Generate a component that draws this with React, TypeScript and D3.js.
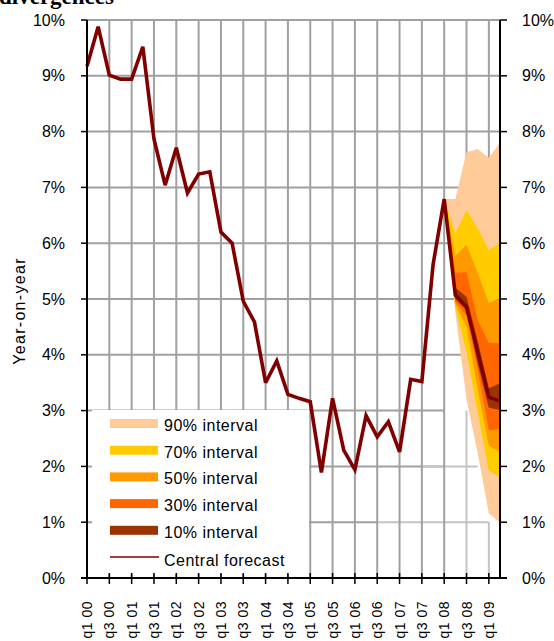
import React from "react";
import * as d3 from "d3";

const quarters = [
  "q1 00","q2 00","q3 00","q4 00","q1 01","q2 01","q3 01","q4 01",
  "q1 02","q2 02","q3 02","q4 02","q1 03","q2 03","q3 03","q4 03",
  "q1 04","q2 04","q3 04","q4 04","q1 05","q2 05","q3 05","q4 05",
  "q1 06","q2 06","q3 06","q4 06","q1 07","q2 07","q3 07","q4 07",
  "q1 08","q2 08","q3 08","q4 08","q1 09","q2 09",
];

const central = [
  9.17, 9.88, 9.01, 8.94, 8.94, 9.52, 7.87, 7.04,
  7.71, 6.9, 7.24, 7.28, 6.2, 6.0, 4.96, 4.59,
  3.5, 3.89, 3.29, 3.22, 3.16, 1.89, 3.22, 2.29,
  1.94, 2.91, 2.53, 2.8, 2.26, 3.56, 3.52, 5.61,
  6.79, 5.07, 4.86, 4.05, 3.24, 3.17,
];

const forecastQuarters = ["q1 08", "q2 08", "q3 08", "q4 08", "q1 09", "q2 09"];
const lower90 = [6.79, 4.75, 3.2, 2.24, 1.16, 0.99];
const upper90 = [6.79, 6.79, 7.63, 7.69, 7.53, 7.8];
const lower70 = [6.79, 4.85, 4.05, 2.97, 1.92, 1.81];
const upper70 = [6.79, 6.18, 6.59, 6.27, 5.88, 6.0];
const lower50 = [6.79, 4.9, 4.5, 3.38, 2.37, 2.26];
const upper50 = [6.79, 5.77, 5.97, 5.47, 4.93, 5.02];
const lower30 = [6.79, 4.95, 4.7, 3.73, 2.65, 2.67];
const upper30 = [6.79, 5.47, 5.48, 4.62, 4.21, 4.21];
const lower10 = [6.79, 5.0, 4.8, 3.85, 3.05, 3.01];
const upper10 = [6.79, 5.2, 5.04, 4.25, 3.4, 3.49];

const bandNames = ["90% interval", "70% interval", "50% interval", "30% interval", "10% interval"];
const bandColors = ["#FFCC99", "#FFCC00", "#FF9900", "#FF6600", "#993300"];
const bandLowers = [lower90, lower70, lower50, lower30, lower10];
const bandUppers = [upper90, upper70, upper50, upper30, upper10];

const yTickValues = [0, 1, 2, 3, 4, 5, 6, 7, 8, 9, 10];
const tickQuarters = quarters.filter((_, i) => i % 2 === 0);

const lineColor = "#800000";
const gridColor = "#a0a0a0";
const lightGrid = "#c4c4c4";
const sans = "'Liberation Sans', Arial, sans-serif";

export default function App() {
  const W = 554, H = 641;
  const x = d3.scalePoint<string>().domain(quarters).range([87, 500]);
  const y = d3.scaleLinear().domain([0, 10]).range([578, 20]);
  const x0 = x(quarters[0])!;
  const x1 = x(quarters[quarters.length - 1])!;

  const line = d3
    .line<number>()
    .x((_, i) => x(quarters[i])!)
    .y((d) => y(d));

  const area = d3
    .area<number>()
    .x((_, i) => x(forecastQuarters[i])!);

  const hGrid: { v: number; xa: number; xb: number; c: string }[] = [];
  yTickValues.forEach((v) => {
    if (v === 0) return;
    if (v >= 4) hGrid.push({ v, xa: x0, xb: x1, c: gridColor });
    else if (v === 3 || v === 2) hGrid.push({ v, xa: x0, xb: x("q1 08")!, c: gridColor });
    else {
      hGrid.push({ v, xa: x0, xb: x("q3 06")!, c: gridColor });
      hGrid.push({ v, xa: x("q3 06")!, xb: x("q1 09")!, c: lightGrid });
    }
  });
  hGrid.push({ v: 2, xa: x("q3 07")!, xb: x("q4 08")!, c: lightGrid });

  const vGrid: { q: string; ya: number; yb: number; c: string }[] = [];
  tickQuarters.forEach((q, i) => {
    if (i === 0) return;
    if (q === "q3 08") {
      vGrid.push({ q, ya: 10, yb: 6.9, c: gridColor });
      vGrid.push({ q, ya: 3, yb: 0, c: lightGrid });
    } else if (q === "q1 09") {
      vGrid.push({ q, ya: 10, yb: 6.9, c: gridColor });
      vGrid.push({ q, ya: 1, yb: 0, c: lightGrid });
    } else vGrid.push({ q, ya: 10, yb: 0, c: gridColor });
  });

  const legendX = 92, legendY = 410, legendW = 217, legendH = 164;
  const rowTop0 = 419, rowStep = 26.7;

  return (
    <svg
      width={W}
      height={H}
      style={{ position: "absolute", left: 0, top: 0, background: "#fff" }}
    >
      <rect x={0} y={0} width={W} height={H} fill="#fff" />
      <text
        x={-1}
        y={4}
        fontFamily="'Liberation Serif', 'Times New Roman', serif"
        fontWeight="bold"
        fontSize={23}
        fill="#000"
      >
        divergences
      </text>

      {hGrid.map((g, i) => (
        <line key={"h" + i} x1={g.xa} x2={g.xb} y1={y(g.v)} y2={y(g.v)} stroke={g.c} strokeWidth={2} />
      ))}
      {vGrid.map((g, i) => (
        <line key={"v" + i} x1={x(g.q)} x2={x(g.q)} y1={y(g.ya)} y2={y(g.yb)} stroke={g.c} strokeWidth={2} />
      ))}

      {bandNames.map((name, b) => (
        <path
          key={name}
          d={area.y0((d) => y(d)).y1((_, i) => y(bandUppers[b][i]))(bandLowers[b]) || ""}
          fill={bandColors[b]}
        />
      ))}

      <path d={line(central) || ""} fill="none" stroke={lineColor} strokeWidth={3.6} strokeLinejoin="miter" strokeMiterlimit={3} />

      {/* legend */}
      <rect x={legendX} y={legendY} width={legendW} height={legendH} fill="#fff" />
      {bandNames.map((name, b) => (
        <g key={"lg" + name}>
          <rect x={110} y={rowTop0 + b * rowStep} width={48} height={9} fill={bandColors[b]} />
          <text
            x={164}
            y={rowTop0 + b * rowStep + 12}
            fontFamily={sans}
            fontSize={16}
            letterSpacing={0.5}
            fill="#000"
          >
            {name}
          </text>
        </g>
      ))}
      <line x1={110} x2={159} y1={557} y2={557} stroke={lineColor} strokeWidth={1.5} />
      <text x={164} y={566} fontFamily={sans} fontSize={16} letterSpacing={0.5} fill="#000">
        Central forecast
      </text>

      {/* axes */}
      <line x1={x0} x2={x0} y1={y(10)} y2={y(0)} stroke="#000" strokeWidth={2} />
      <line x1={x1} x2={x1} y1={y(10)} y2={y(0)} stroke="#000" strokeWidth={2} />
      <line x1={x0 - 6} x2={x1 + 7} y1={y(0)} y2={y(0)} stroke="#000" strokeWidth={2} />
      {yTickValues.map((v) => (
        <g key={"yt" + v}>
          <line x1={x0 - 6} x2={x0} y1={y(v)} y2={y(v)} stroke="#000" strokeWidth={1.5} />
          <line x1={x1} x2={x1 + 7} y1={y(v)} y2={y(v)} stroke="#000" strokeWidth={1.5} />
          <text x={65} y={y(v) + 5.5} textAnchor="end" fontFamily={sans} fontSize={16} fill="#000">
            {v + "%"}
          </text>
          <text x={522} y={y(v) + 5.5} fontFamily={sans} fontSize={16} fill="#000">
            {v + "%"}
          </text>
        </g>
      ))}
      {tickQuarters.map((q) => (
        <g key={"xt" + q}>
          <line x1={x(q)} x2={x(q)} y1={y(0) - 5} y2={y(0) + 6} stroke="#000" strokeWidth={1.5} />
          <text
            transform={`translate(${x(q)},601) rotate(-90)`}
            textAnchor="end"
            dominantBaseline="central"
            fontFamily={sans}
            fontSize={14}
            letterSpacing={0.5}
            fill="#000"
          >
            {q}
          </text>
        </g>
      ))}
      <text
        transform="translate(25,311) rotate(-90)"
        textAnchor="middle"
        fontFamily={sans}
        fontSize={16}
        letterSpacing={1.3}
        fill="#000"
      >
        Year-on-year
      </text>
    </svg>
  );
}
